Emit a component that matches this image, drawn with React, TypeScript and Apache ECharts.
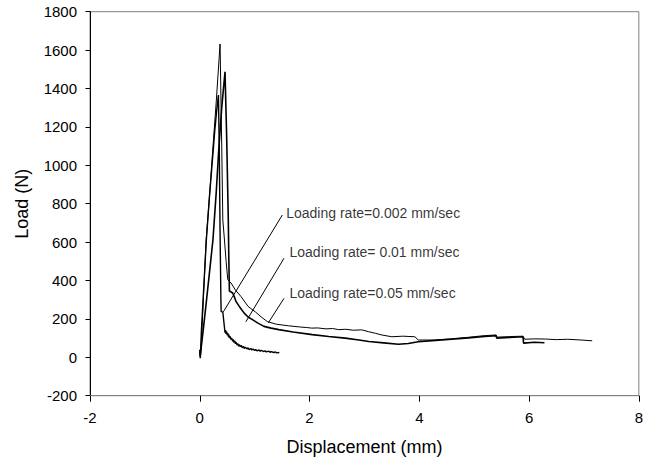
import React, { useEffect, useRef } from "react";
import * as echarts from "echarts";

// Loading rate = 0.002 mm/sec
const disp002 = [0, 0.01, 0.03, 0.06, 0.12, 0.18, 0.245, 0.27, 0.29, 0.31, 0.34, 0.355, 0.37, 0.385, 0.39, 0.42, 0.45, 0.46, 0.47, 0.48, 0.49, 0.5, 0.51, 0.52, 0.53, 0.54, 0.55, 0.57, 0.58, 0.6, 0.61, 0.62, 0.64, 0.65, 0.66, 0.68, 0.69, 0.71, 0.72, 0.74, 0.76, 0.77, 0.8, 0.81, 0.83, 0.86, 0.88, 0.9, 0.93, 0.95, 0.97, 1.0, 1.02, 1.04, 1.08, 1.1, 1.12, 1.17, 1.19, 1.21, 1.26, 1.28, 1.3, 1.35, 1.38, 1.4, 1.45];
const load002 = [30, -5, 140, 300, 611, 850, 1077, 1170, 1230, 1290, 1366, 1100, 650, 300, 238, 236, 155, 128, 142, 122, 134, 116, 126, 108, 118, 100, 110, 92, 100, 84, 93, 78, 86, 70, 79, 64, 72, 58, 66, 56, 62, 50, 56, 46, 52, 44, 49, 40, 46, 38, 43, 36, 41, 33, 38, 31, 36, 30, 34, 28, 32, 26, 30, 25, 28, 23, 25];

// Loading rate = 0.01 mm/sec
const disp001 = [0, 0.01, 0.03, 0.07, 0.12, 0.18, 0.24, 0.3, 0.345, 0.4, 0.46, 0.49, 0.52, 0.53, 0.54, 0.57, 0.6, 0.63, 0.66, 0.72, 0.81, 0.88, 0.96, 1.06, 1.17, 1.3, 1.44, 1.7, 2.05, 2.35, 2.65, 2.9, 3.08, 3.35, 3.62, 3.8, 3.98, 4.3, 4.59, 4.9, 5.19, 5.4, 5.41, 5.65, 5.89, 5.9, 6.1, 6.28];
const load001 = [40, 10, 60, 160, 290, 450, 611, 860, 1077, 1300, 1487, 1150, 715, 500, 345, 340, 335, 315, 291, 265, 230, 210, 196, 178, 161, 152, 144, 132, 118, 108, 100, 90, 82, 75, 68, 72, 81, 88, 94, 101, 108, 113, 100, 103, 107, 74, 78, 76];

// Loading rate = 0.05 mm/sec
const disp005 = [0, 0.01, 0.03, 0.116, 0.18, 0.236, 0.3, 0.37, 0.4, 0.42, 0.45, 0.48, 0.51, 0.54, 0.57, 0.65, 0.75, 0.88, 0.95, 1.02, 1.12, 1.23, 1.4, 1.62, 1.82, 1.95, 2.04, 2.15, 2.3, 2.42, 2.53, 2.66, 2.8, 2.95, 3.08, 3.2, 3.32, 3.5, 3.7, 3.92, 3.98, 4.28, 4.6, 4.89, 5.19, 5.4, 5.41, 5.65, 5.89, 5.92, 6.1, 6.3, 6.5, 6.7, 6.95, 7.15];
const load005 = [25, 0, 80, 611, 850, 1077, 1330, 1632, 1100, 715, 611, 500, 405, 395, 387, 350, 317, 265, 250, 235, 210, 186, 172, 164, 158, 155, 152, 153, 148, 150, 144, 146, 141, 143, 133, 125, 116, 107, 110, 107, 90, 90, 97, 104, 113, 116, 105, 108, 110, 94, 96, 95, 92, 94, 90, 86];

// Annotation labels and their leader lines (displacement, load)
const labelTexts = ["Loading rate=0.002 mm/sec", "Loading rate= 0.01 mm/sec", "Loading rate=0.05 mm/sec"];
const labelDisp = [1.566, 1.626, 1.626];
const labelLoad = [750, 550, 336];
const leaderFromDisp = [1.504, 1.535, 1.535];
const leaderFromLoad = [741, 516, 307];
const leaderToDisp = [0.43, 0.84, 1.25];
const leaderToLoad = [237, 185, 180];

const xTicks = { min: -2, max: 8, interval: 2 };
const yTicks = { min: -200, max: 1800, interval: 200 };

const FONT = '"Liberation Sans", Arial, sans-serif';

function pairs(xs: number[], ys: number[]) {
  return xs.map((x, i) => [x, ys[i]]);
}

export default function App() {
  const ref = useRef<HTMLDivElement>(null);
  useEffect(() => {
    if (!ref.current) return;
    const chart = echarts.init(ref.current, null, { renderer: "svg" });
    const curve = (data: number[][], width: number) => ({
      type: "line",
      data,
      symbol: "none",
      smooth: false,
      silent: true,
      lineStyle: { color: "#000", width },
      z: 3,
    });
    const leaders = labelTexts.map((_, i) => ({
      type: "line",
      data: [
        [leaderFromDisp[i], leaderFromLoad[i]],
        [leaderToDisp[i], leaderToLoad[i]],
      ],
      symbol: "none",
      silent: true,
      lineStyle: { color: "#000", width: 1 },
      z: 4,
    }));
    chart.setOption({
      animation: false,
      backgroundColor: "#fff",
      grid: {
        left: 90,
        right: 4.3,
        top: 11.7,
        bottom: 71.3,
        show: true,
        borderColor: "#808080",
        borderWidth: 1,
        backgroundColor: "transparent",
      },
      xAxis: {
        type: "value",
        min: xTicks.min,
        max: xTicks.max,
        interval: xTicks.interval,
        name: "Displacement (mm)",
        nameLocation: "middle",
        nameGap: 42,
        nameTextStyle: { fontFamily: FONT, fontSize: 18, color: "#000" },
        axisLine: { onZero: false, lineStyle: { color: "#808080", width: 1 } },
        axisTick: { inside: false, length: 6, lineStyle: { color: "#000" } },
        axisLabel: { margin: 14, fontFamily: FONT, fontSize: 15, color: "#000", formatter: (v: number) => String(v) },
        splitLine: { show: false },
      },
      yAxis: {
        type: "value",
        min: yTicks.min,
        max: yTicks.max,
        interval: yTicks.interval,
        name: "Load (N)",
        nameLocation: "middle",
        nameGap: 59,
        nameTextStyle: { fontFamily: FONT, fontSize: 18, color: "#000" },
        axisLine: { onZero: false, lineStyle: { color: "#000", width: 1 } },
        axisTick: { inside: false, length: 4.5, lineStyle: { color: "#000" } },
        axisLabel: { margin: 13, fontFamily: FONT, fontSize: 15, color: "#000", formatter: (v: number) => String(v) },
        splitLine: { show: false },
      },
      series: [
        curve(pairs(disp002, load002), 1.4),
        curve(pairs(disp001, load001), 1.6),
        curve(pairs(disp005, load005), 1),
        ...leaders,
        {
          type: "scatter",
          silent: true,
          symbolSize: 1,
          itemStyle: { color: "transparent" },
          data: labelTexts.map((t, i) => ({ value: [labelDisp[i], labelLoad[i]], name: t })),
          label: {
            show: true,
            position: "right",
            distance: 0,
            formatter: (p: any) => p.name,
            fontFamily: FONT,
            fontSize: 14,
            color: "#000",
          },
          z: 5,
        },
      ],
    });
    return () => chart.dispose();
  }, []);
  return (
    <div
      ref={ref}
      style={{ position: "absolute", left: 0, top: 0, width: 646, height: 467 }}
    />
  );
}
